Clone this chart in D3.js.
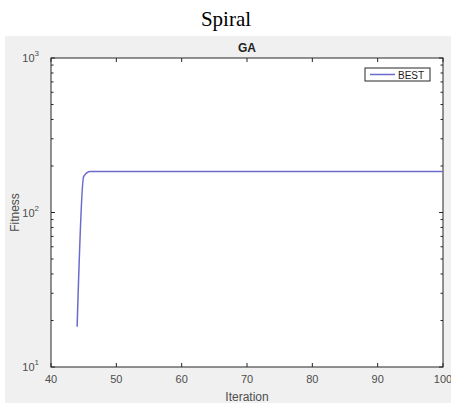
<!DOCTYPE html>
<html><head><meta charset="utf-8">
<script src="https://cdn.jsdelivr.net/npm/d3@7"></script>
<style>body{margin:0;background:#fff;}svg{display:block;}</style>
</head><body>
<script>
const iterations = [44, 45, 46, 100];
const bestFitness = [18.2, 171, 184, 184];
const xTicks = [40, 50, 60, 70, 80, 90, 100];
const yDecades = [10, 100, 1000];
const seriesName = "BEST";

const W = 451, H = 403;
const svg = d3.select("body").append("svg").attr("width", W).attr("height", H);
svg.append("rect").attr("x", 5).attr("y", 36).attr("width", W - 5).attr("height", H - 36).attr("fill", "#f0f0f0");
svg.append("text").attr("x", 226).attr("y", 26).attr("text-anchor", "middle")
  .attr("font-family", "Liberation Serif, Times New Roman, serif").attr("font-size", 21).text("Spiral");

const L = 51, R = 443, T = 58, B = 367;
const x = d3.scaleLinear().domain([40, 100]).range([L, R]);
const y = d3.scaleLog().domain([10, 1000]).range([B, T]);
svg.append("rect").attr("x", L).attr("y", T).attr("width", R - L).attr("height", B - T).attr("fill", "#fff");

const font = "Liberation Sans, Arial, sans-serif";
const tickCol = "#262626";
// x ticks
const g = svg.append("g");
xTicks.forEach(t => {
  g.append("line").attr("x1", x(t)).attr("x2", x(t)).attr("y1", B).attr("y2", B - 4).attr("stroke", tickCol);
  g.append("line").attr("x1", x(t)).attr("x2", x(t)).attr("y1", T).attr("y2", T + 4).attr("stroke", tickCol);
  g.append("text").attr("x", x(t)).attr("y", B + 16).attr("text-anchor", "middle")
    .attr("font-family", font).attr("font-size", 11).attr("fill", "#4d4d4d").text(t);
});
// y ticks
const minor = [];
[10, 100].forEach(d => { for (let k = 2; k <= 9; k++) minor.push(d * k); });
minor.forEach(v => {
  g.append("line").attr("x1", L).attr("x2", L + 2.5).attr("y1", y(v)).attr("y2", y(v)).attr("stroke", tickCol);
  g.append("line").attr("x1", R).attr("x2", R - 2.5).attr("y1", y(v)).attr("y2", y(v)).attr("stroke", tickCol);
});
yDecades.forEach(v => {
  g.append("line").attr("x1", L).attr("x2", L + 4).attr("y1", y(v)).attr("y2", y(v)).attr("stroke", tickCol);
  g.append("line").attr("x1", R).attr("x2", R - 4).attr("y1", y(v)).attr("y2", y(v)).attr("stroke", tickCol);
  const tx = g.append("text").attr("x", L - 12).attr("y", y(v) + 4).attr("text-anchor", "end")
    .attr("font-family", font).attr("font-size", 11).attr("fill", "#4d4d4d");
  tx.append("tspan").text("10");
  tx.append("tspan").attr("font-size", 8).attr("dy", -6).text(Math.round(Math.log10(v)));
});
svg.append("rect").attr("x", L).attr("y", T).attr("width", R - L).attr("height", B - T)
  .attr("fill", "none").attr("stroke", tickCol).attr("stroke-width", 1);

// line
const line = d3.line().x((d, i) => x(iterations[i])).y(d => y(d)).curve(d3.curveMonotoneX);
svg.append("path").datum(bestFitness).attr("d", line).attr("fill", "none")
  .attr("stroke", "#6b6bcb").attr("stroke-width", 1.5);

// titles
svg.append("text").attr("x", (L + R) / 2).attr("y", 52).attr("text-anchor", "middle")
  .attr("font-family", font).attr("font-size", 12).attr("font-weight", "bold").attr("fill", "#222").text("GA");
svg.append("text").attr("x", (L + R) / 2).attr("y", 401).attr("text-anchor", "middle")
  .attr("font-family", font).attr("font-size", 12).attr("fill", "#4d4d4d").text("Iteration");
svg.append("text").attr("transform", `translate(19,${(T + B) / 2}) rotate(-90)`).attr("text-anchor", "middle")
  .attr("font-family", font).attr("font-size", 12).attr("fill", "#4d4d4d").text("Fitness");

// legend
const lg = svg.append("g");
lg.append("rect").attr("x", 365).attr("y", 68).attr("width", 65).attr("height", 13)
  .attr("fill", "#fff").attr("stroke", tickCol).attr("stroke-width", 1);
lg.append("line").attr("x1", 370).attr("x2", 395).attr("y1", 74.5).attr("y2", 74.5)
  .attr("stroke", "#6b6bcb").attr("stroke-width", 1.5);
lg.append("text").attr("x", 398).attr("y", 78.5).attr("font-family", font).attr("font-size", 10)
  .attr("fill", "#222").text(seriesName);
</script>
</body></html>
